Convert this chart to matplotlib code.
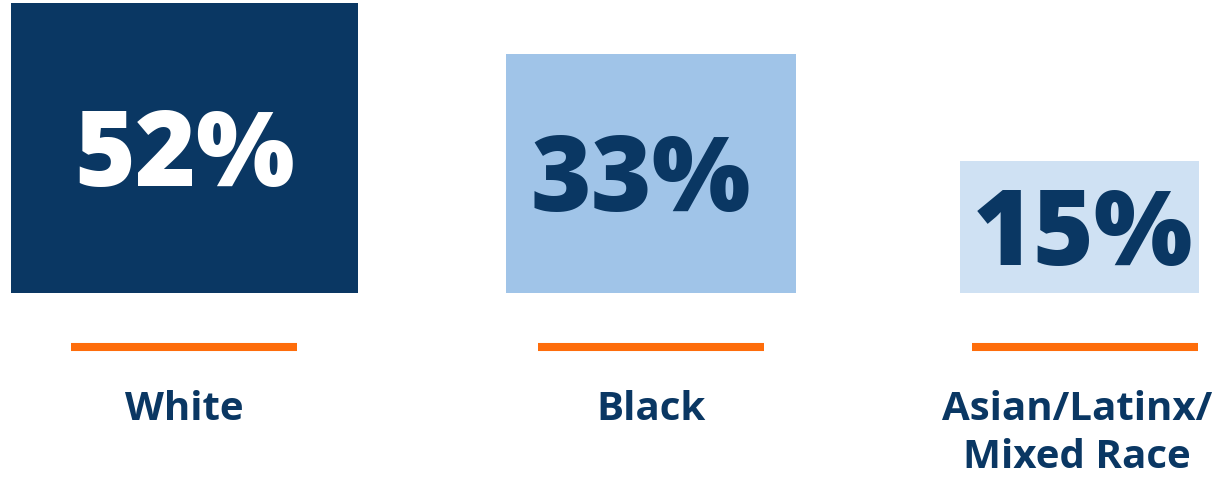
import matplotlib
matplotlib.use("Agg")
import matplotlib.pyplot as plt

categories = ["White", "Black", "Asian/Latinx/\nMixed Race"]
values = [52, 33, 15]
value_labels = [f"{v}%" for v in values]

# layout (pixel units, y measured upward from the bottom of the figure)
W, H = 1230, 481
box_left = [11, 506, 960]
box_width = [347, 290, 239]
box_height = [290, 239, 132]
box_base = 187
box_colors = ["#0a3763", "#a0c4e8", "#cfe1f3"]
value_colors = ["white", "#0a3763", "#0a3763"]
value_x = [184.5, 640.5, 1083.5]
line_x = [(71, 297), (538, 764), (972, 1198)]
line_y = 133
label_x = [184.5, 651, 1077]
label_base = 61
label_step = 48
navy = "#0a3763"
orange = "#fe6d0b"
fam = ["Open Sans", "DejaVu Sans"]

fig = plt.figure(figsize=(W / 100, H / 100), dpi=100)
ax = fig.add_axes([0, 0, 1, 1])
ax.set_xlim(0, W)
ax.set_ylim(0, H)
ax.axis("off")

ax.bar(box_left, box_height, width=box_width, bottom=box_base, align="edge",
       color=box_colors, edgecolor="none")

for i, lab in enumerate(value_labels):
    cy = box_base + box_height[i] / 2 - 37
    ax.text(value_x[i], cy, lab, ha="center", va="baseline",
            fontsize=75, fontweight="heavy", family=fam,
            color=value_colors[i])

for (x0, x1) in line_x:
    ax.hlines(line_y, x0, x1, colors=orange, linewidth=5.8, capstyle="butt")

for i, cat in enumerate(categories):
    for j, part in enumerate(cat.split("\n")):
        ax.text(label_x[i], label_base - j * label_step, part, ha="center",
                va="baseline", fontsize=29, fontweight="bold", family=fam,
                color=navy)

fig.savefig("out.png", dpi=100)
